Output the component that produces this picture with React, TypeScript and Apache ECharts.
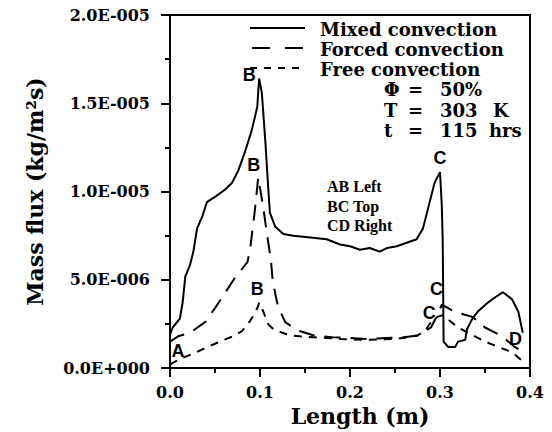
import React, { useEffect, useRef } from "react";
import * as echarts from "echarts";

// Mass flux values are in units of 1e-6 kg/(m^2 s)
const mixedX = [0, 0.003, 0.011, 0.014, 0.017, 0.022, 0.026, 0.03, 0.036, 0.041, 0.05, 0.061, 0.069, 0.076, 0.083, 0.091, 0.097, 0.099, 0.102, 0.106, 0.109, 0.111, 0.117, 0.126, 0.137, 0.156, 0.174, 0.189, 0.2, 0.211, 0.222, 0.233, 0.241, 0.252, 0.263, 0.274, 0.281, 0.289, 0.294, 0.3, 0.302, 0.303, 0.304, 0.309, 0.317, 0.32, 0.328, 0.33, 0.336, 0.342, 0.353, 0.361, 0.37, 0.38, 0.387, 0.392];
const mixedY = [1.9, 2.3, 2.8, 3.7, 5.2, 5.8, 6.6, 7.9, 8.6, 9.4, 9.7, 10.1, 10.5, 11.2, 12.2, 13.5, 14.8, 16.4, 15.6, 12.8, 10.3, 8.8, 8.0, 7.6, 7.5, 7.4, 7.3, 7.0, 6.9, 6.7, 6.8, 6.6, 6.8, 6.9, 7.1, 7.3, 7.9, 9.5, 10.5, 11.1, 9.2, 7.3, 1.5, 1.2, 1.2, 1.5, 1.6, 2.2, 2.8, 3.2, 3.7, 4.0, 4.3, 3.9, 3.2, 2.0];

const forcedX = [0, 0.009, 0.022, 0.039, 0.05, 0.063, 0.072, 0.086, 0.089, 0.092, 0.094, 0.096, 0.098, 0.1, 0.103, 0.105, 0.108, 0.112, 0.114, 0.117, 0.12, 0.128, 0.137, 0.144, 0.16, 0.18, 0.2, 0.22, 0.24, 0.26, 0.275, 0.29, 0.297, 0.302, 0.316, 0.336, 0.35, 0.369, 0.383, 0.39];
const forcedY = [1.5, 1.8, 2.0, 2.6, 3.4, 4.4, 5.1, 6.0, 6.7, 8.0, 8.8, 9.8, 10.8, 10.2, 9.3, 8.6, 7.5, 6.2, 5.0, 4.2, 3.5, 2.6, 2.3, 2.1, 1.85, 1.75, 1.7, 1.65, 1.7, 1.75, 1.85, 2.3, 3.0, 3.6, 3.2, 2.9, 2.3, 1.8, 1.2, 1.0];

const freeX = [0, 0.003, 0.015, 0.025, 0.042, 0.053, 0.06, 0.07, 0.08, 0.088, 0.093, 0.097, 0.099, 0.102, 0.106, 0.109, 0.115, 0.125, 0.133, 0.144, 0.16, 0.19, 0.22, 0.25, 0.265, 0.275, 0.283, 0.29, 0.297, 0.303, 0.32, 0.335, 0.35, 0.38, 0.394];
const freeY = [0.2, 0.3, 0.6, 0.8, 1.2, 1.45, 1.6, 1.8, 2.1, 2.6, 3.0, 3.4, 3.7, 3.4, 2.9, 2.5, 2.2, 2.0, 1.85, 1.8, 1.75, 1.65, 1.6, 1.65, 1.75, 1.85, 2.1, 2.6, 2.9, 3.0, 2.3, 1.9, 1.5, 0.9, 0.3];

const seriesNames = ["Mixed convection", "Forced convection", "Free convection"];
const xTickLabels = ["0.0", "0.1", "0.2", "0.3", "0.4"];
const yTickLabels = ["0.0E+000", "5.0E-006", "1.0E-005", "1.5E-005", "2.0E-005"];

const pointLabels = ["B", "B", "B", "A", "C", "C", "C", "D"];
const pointLabelX = [0.088, 0.093, 0.097, 0.009, 0.3, 0.296, 0.288, 0.384];
const pointLabelY = [16.6, 11.5, 4.46, 0.96, 11.9, 4.46, 3.1, 1.64];

const condSymbols = ["Φ", "T", "t"];
const condValues = ["50%", "303", "115"];
const condUnits = ["", "K", "hrs"];
const faceNotes = ["AB Left", "BC Top", "CD Right"];

const SERIF = "'DejaVu Serif', serif";
const dashTypes: any[] = ["solid", [16, 10], [8, 7]];

export default function App() {
  const ref = useRef<HTMLDivElement>(null);
  useEffect(() => {
    document.body.style.margin = "0";
    if (!ref.current) return;
    const chart = echarts.init(ref.current, null, { renderer: "svg" });
    const lineSeries = (name: string, xs: number[], ys: number[], type: any) => ({
      name,
      type: "line",
      data: xs.map((x, i) => [x, ys[i]]),
      symbol: "none",
      showSymbol: false,
      lineStyle: { color: "#000", width: 2, type },
      itemStyle: { color: "#000" },
      silent: true,
    });
    const axisCommon = {
      axisLine: { show: true, lineStyle: { color: "#000", width: 2 } },
      axisTick: { show: true, length: 9, inside: false, lineStyle: { color: "#000", width: 2 } },
      minorTick: { show: true, splitNumber: 2, length: 5, lineStyle: { color: "#000", width: 2 } },
      splitLine: { show: false },
      minorSplitLine: { show: false },
    };
    const g: any[] = [];
    // legend (drawn manually)
    const legY = [28, 48, 68];
    const legDash: any[] = [null, [18, 15], [7, 7]];
    const legX1 = [250, 252, 250];
    seriesNames.forEach((n, i) => {
      g.push({
        type: "line",
        shape: { x1: legX1[i], y1: legY[i], x2: 305, y2: legY[i] },
        style: { stroke: "#000", lineWidth: 2, lineDash: legDash[i] || undefined },
        silent: true,
      });
      g.push({ type: "text", x: 320, y: legY[i] + 1, style: { text: n, font: `bold 18px ${SERIF}`, fill: "#000", verticalAlign: "middle" } });
    });
    const rowsY = [89, 110, 130];
    condSymbols.forEach((s, i) => {
      const font = `bold 18px ${SERIF}`;
      g.push({ type: "text", x: 384, y: rowsY[i], style: { text: s, font, fill: "#000", verticalAlign: "middle" } });
      g.push({ type: "text", x: 408, y: rowsY[i], style: { text: "=", font, fill: "#000", verticalAlign: "middle" } });
      g.push({ type: "text", x: 440, y: rowsY[i], style: { text: condValues[i], font, fill: "#000", verticalAlign: "middle" } });
      if (condUnits[i]) g.push({ type: "text", x: i === 1 ? 493 : 489, y: rowsY[i], style: { text: condUnits[i], font, fill: "#000", verticalAlign: "middle" } });
    });
    const noteY = [186, 206, 225];
    faceNotes.forEach((t, i) => {
      g.push({ type: "text", x: 327, y: noteY[i], style: { text: t, font: "bold 16px 'Liberation Serif', serif", fill: "#000", verticalAlign: "middle" } });
    });

    chart.setOption({
      animation: false,
      backgroundColor: "#fff",
      grid: { left: 170, right: 22, top: 15, bottom: 63, show: true, borderColor: "#000", borderWidth: 2, backgroundColor: "transparent" },
      xAxis: {
        type: "value",
        min: 0,
        max: 0.4,
        interval: 0.1,
        ...axisCommon,
        axisLabel: {
          formatter: (v: number) => xTickLabels[Math.round(v / 0.1)] ?? "",
          fontFamily: SERIF, fontWeight: "bold", fontSize: 16, color: "#000", margin: 16,
        },
        name: "Length (m)",
        nameLocation: "middle",
        nameGap: 30,
        nameTextStyle: { fontFamily: SERIF, fontWeight: "bold", fontSize: 22, color: "#000", padding: [0, 0, 0, 20] },
      },
      yAxis: {
        type: "value",
        min: 0,
        max: 20,
        interval: 5,
        ...axisCommon,
        axisLabel: {
          formatter: (v: number) => yTickLabels[Math.round(v / 5)] ?? "",
          fontFamily: SERIF, fontWeight: "bold", fontSize: 16, color: "#000", margin: 20,
        },
        name: "Mass flux (kg/m²s)",
        nameLocation: "middle",
        nameGap: 124,
        nameRotate: 90,
        nameTextStyle: { fontFamily: SERIF, fontWeight: "bold", fontSize: 22, color: "#000" },
      },
      series: [
        lineSeries(seriesNames[0], mixedX, mixedY, dashTypes[0]),
        lineSeries(seriesNames[1], forcedX, forcedY, dashTypes[1]),
        lineSeries(seriesNames[2], freeX, freeY, dashTypes[2]),
        {
          name: "pointLabels",
          type: "scatter",
          symbolSize: 1,
          itemStyle: { color: "rgba(0,0,0,0)", opacity: 1 },
          silent: true,
          label: {
            show: true,
            position: "inside",
            formatter: (p: any) => p.name,
            fontFamily: "'Liberation Sans', sans-serif",
            fontWeight: "bold",
            fontSize: 18,
            color: "#000",
            opacity: 1,
            textBorderWidth: 0,
            textBorderColor: "transparent",
          },
          data: pointLabels.map((n, i) => ({ name: n, value: [pointLabelX[i], pointLabelY[i]] })),
        },
      ],
      graphic: g,
    });
    return () => chart.dispose();
  }, []);
  return <div ref={ref} style={{ width: 552, height: 432 }} />;
}
